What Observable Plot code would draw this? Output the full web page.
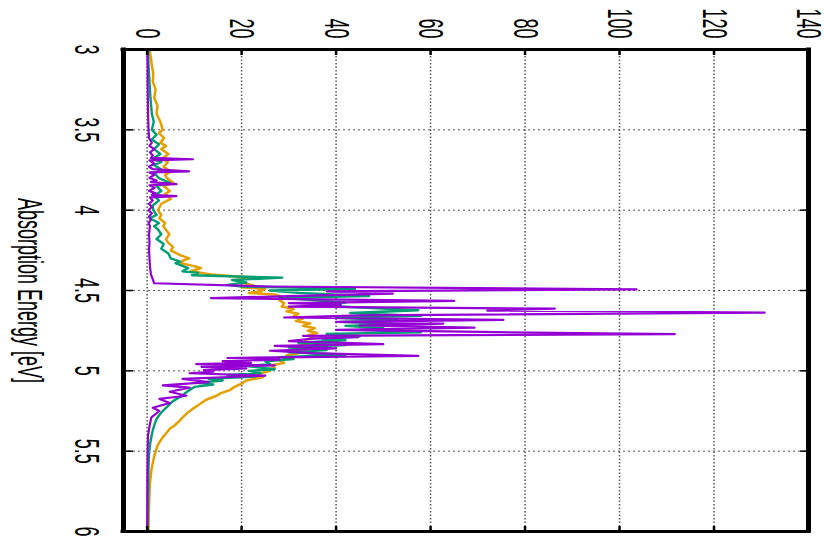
<!DOCTYPE html>
<html><head><meta charset="utf-8">
<script src="https://cdn.jsdelivr.net/npm/d3@7"></script>
<script src="https://cdn.jsdelivr.net/npm/@observablehq/plot@0.6"></script>
<style>html,body{margin:0;padding:0;background:#fff} #chart svg{display:block}</style>
</head><body><div id="chart"></div>
<script>
// ---- data ----
const xTicks = [0, 20, 40, 60, 80, 100, 120, 140];
const yTicks = [3, 3.5, 4, 4.5, 5, 5.5, 6];
const gridX = [0, 20, 40, 60, 80, 100, 120];
const gridY = [3.5, 4, 4.5, 5, 5.5];
const axisLabel = "Absorption Energy [eV]";

const purpleE = [3.00,3.10,3.20,3.30,3.40,3.50,3.55,3.58,3.60,3.62,3.64,3.66,3.675,3.683,3.69,3.71,3.73,3.745,3.758,3.765,3.78,3.80,3.815,3.825,3.838,3.845,3.86,3.88,3.895,3.905,3.913,3.92,3.94,3.96,3.98,4.00,4.02,4.04,4.06,4.08,4.10,4.15,4.20,4.25,4.30,4.35,4.40,4.43,4.455,4.475,4.493,4.505,4.52,4.535,4.547,4.565,4.578,4.59,4.60,4.613,4.625,4.638,4.655,4.668,4.683,4.695,4.706,4.718,4.731,4.745,4.758,4.772,4.782,4.79,4.80,4.815,4.834,4.845,4.86,4.875,4.89,4.907,4.92,4.93,4.94,4.95,4.958,4.966,4.975,4.985,4.995,5.005,5.015,5.03,5.05,5.07,5.09,5.105,5.13,5.155,5.175,5.20,5.23,5.25,5.29,5.33,5.40,5.50,5.70,6.00];
const purpleV = [0.05,0.1,0.1,0.15,0.2,0.3,0.4,1.0,0.5,1.5,0.6,1.2,0.8,9.7,0.5,1.5,0.4,1.2,8.9,0.5,1.5,0.5,2.0,0.8,6.2,0.5,1.6,0.4,1.8,1.0,6.2,0.6,1.2,0.4,1.0,0.3,1.0,0.4,0.8,0.3,0.6,0.4,0.5,0.4,0.5,0.6,0.8,1.2,1.5,26,103.6,38,52,30,13.5,65,30,41,30,86.3,72,130.7,45,29,75.4,40,62.7,45,69.3,40,70.8,111.7,33,44.7,35,30,50,27,40,26,35,57.4,17,28,16,22,10.4,27,11.5,21,12,14,9,25,7.5,13,3.3,9,4.8,8.3,2.6,4.8,1.2,2.6,0.9,0.6,0.2,0.1,0.05,0.02];

const greenE = [3.00,3.10,3.20,3.30,3.40,3.45,3.50,3.53,3.56,3.59,3.62,3.65,3.68,3.70,3.72,3.75,3.77,3.80,3.83,3.85,3.88,3.91,3.94,3.97,4.00,4.03,4.05,4.08,4.10,4.12,4.15,4.18,4.21,4.24,4.27,4.30,4.32,4.33,4.36,4.38,4.39,4.405,4.42,4.435,4.45,4.465,4.475,4.49,4.50,4.515,4.534,4.545,4.56,4.575,4.59,4.60,4.623,4.64,4.658,4.67,4.685,4.695,4.708,4.72,4.735,4.745,4.76,4.77,4.785,4.80,4.81,4.825,4.84,4.855,4.87,4.885,4.90,4.915,4.927,4.94,4.958,4.97,4.99,5.00,5.015,5.025,5.035,5.05,5.06,5.075,5.085,5.10,5.12,5.14,5.155,5.17,5.19,5.21,5.23,5.25,5.27,5.30,5.33,5.37,5.41,5.46,5.52,5.60,5.80,6.00];
const greenV = [0.2,0.3,0.5,0.7,1.0,1.4,1.0,2.0,1.0,2.5,1.5,2.8,1.2,3.0,1.5,3.2,1.5,2.5,4.8,2.0,3.0,1.5,2.5,1.2,1.3,2.0,0.6,2.5,1.5,2.3,3.0,2.0,3.5,3.0,4.5,5.0,7.0,6.0,8.7,7.5,10.8,9.5,28.6,18,21,17,20,44,26,32,47,28,35,42,35,41,57.4,43,58,40,53,41,52,42,50,45,58,38,45,37,42,32,42,30,38,30,42,28,31,25,26,21,27,21.5,24,17,23,13,16,10.5,14,10,9,8,7.5,6.5,5.4,4.7,4,3.3,2.7,2.0,1.6,1.2,0.9,0.6,0.4,0.3,0.2,0.15];

const orangeE = [3.00,3.05,3.10,3.15,3.20,3.25,3.30,3.35,3.40,3.45,3.50,3.52,3.55,3.58,3.60,3.62,3.65,3.68,3.70,3.73,3.76,3.78,3.80,3.83,3.85,3.88,3.90,3.93,3.96,4.00,4.03,4.05,4.08,4.10,4.13,4.15,4.18,4.20,4.23,4.25,4.28,4.30,4.315,4.33,4.345,4.36,4.38,4.40,4.42,4.435,4.45,4.47,4.48,4.49,4.505,4.515,4.525,4.54,4.56,4.58,4.60,4.615,4.63,4.645,4.66,4.675,4.69,4.705,4.72,4.735,4.75,4.765,4.78,4.795,4.81,4.83,4.845,4.86,4.875,4.89,4.905,4.92,4.935,4.95,4.965,4.98,4.995,5.00,5.02,5.04,5.06,5.08,5.10,5.12,5.14,5.155,5.18,5.21,5.24,5.26,5.29,5.31,5.34,5.36,5.39,5.414,5.44,5.466,5.52,5.57,5.62,5.70,5.80,5.90,6.00];
const orangeV = [0.5,0.8,1.0,1.3,1.2,1.8,1.5,2.2,2.0,2.8,3.3,2.5,3.6,2.8,4.0,3.0,4.5,3.2,4.4,3.5,5.0,3.8,4.2,5.5,3.5,4.8,3.8,5.0,3.0,2.3,3.0,2.6,3.8,3.4,4.2,4.7,4.0,4.4,5.5,5.0,7,8.9,7.5,7.2,9.5,11.4,9.3,13.6,22,19,20,22.7,20,25,24,21.5,27,28.5,28,29,28.5,31,29.5,32,31,33,31.5,34.5,33,35.5,34,36,34,35,33.5,34,32,33,31,32,29.5,30,28,29,26.5,27,25,26,23.5,24.5,21,20,18.5,17.5,15.5,14.7,12.5,11,9.5,8.6,7.5,6.9,5.8,4.8,4.0,3.3,2.7,2.2,1.6,1.2,0.9,0.6,0.45,0.35,0.3];

// ---- layout ----
const W = 824, H = 541, mL = 123, mR = 16, mT = 49, mB = 10;
const innerW = W - mL - mR, innerH = H - mT - mB;

function series(E, V) {
  const n = Math.min(E.length, V.length);
  return d3.range(n).map(i => ({e: E[i], v: V[i]}));
}
const purple = series(purpleE, purpleV);
const green = series(greenE, greenV);
const orange = series(orangeE, orangeV);

const chart = Plot.plot({
  width: W, height: H,
  marginLeft: mL, marginRight: mR, marginTop: mT, marginBottom: mB,
  x: {domain: [-5, 140], axis: null},
  y: {domain: [3, 6], reverse: true, axis: null},
  style: {fontFamily: "'Liberation Sans', Arial, Helvetica, sans-serif", background: "#fff", color: "#000"},
  marks: [
    Plot.ruleX(gridX, {stroke: "#555", strokeWidth: 1.5, strokeDasharray: "1.5,2"}),
    Plot.ruleY(gridY, {stroke: "#555", strokeWidth: 1, strokeDasharray: "2,3"}),
    Plot.line(orange, {x: "v", y: "e", stroke: "#e69f00", strokeWidth: 2.5}),
    Plot.line(green, {x: "v", y: "e", stroke: "#009e73", strokeWidth: 2.4}),
    Plot.line(purple, {x: "v", y: "e", stroke: "#9400d3", strokeWidth: 2.2}),
    Plot.ruleX(gridX, {insetBottom: innerH - 6, stroke: "#000", strokeWidth: 2.5}),
    Plot.ruleX(gridX, {insetTop: innerH - 5, stroke: "#000", strokeWidth: 2.5}),
    Plot.ruleY(gridY, {insetRight: innerW - 10, stroke: "#000", strokeWidth: 1.5}),
    Plot.ruleY(gridY, {insetLeft: innerW - 8, stroke: "#000", strokeWidth: 1.5}),
    Plot.ruleX([-5, 140], {stroke: "#000", strokeWidth: 5, insetTop: -1.5, insetBottom: -1.5}),
    Plot.ruleY([3, 6], {stroke: "#000", strokeWidth: 3, insetLeft: -2.5, insetRight: -2.5}),
    Plot.text(xTicks, {x: d => d, frameAnchor: "top", lineAnchor: "middle", dy: -11, rotate: 90, textAnchor: "end", fontSize: 18, fill: "#000"}),
    Plot.text(yTicks, {y: d => d, frameAnchor: "left", lineAnchor: "middle", dx: -37, rotate: 90, textAnchor: "middle", fontSize: 18, fill: "#000"}),
    Plot.text([axisLabel], {frameAnchor: "left", lineAnchor: "middle", dx: -94, rotate: 90, textAnchor: "middle", fontSize: 18, fill: "#000"})
  ]
});

// the reference text is stretched across its glyph height
d3.select(chart).selectAll("text").attr("transform", function () {
  return (this.getAttribute("transform") || "") + " scale(1,1.95)";
});
document.getElementById("chart").appendChild(chart);
</script>
</body></html>
